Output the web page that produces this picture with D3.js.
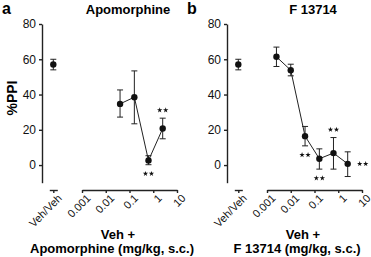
<!DOCTYPE html>
<html>
<head>
<meta charset="utf-8">
<script src="https://cdn.jsdelivr.net/npm/d3@7"></script>
<style>
  body { margin: 0; background: white; }
  svg { font-family: "Liberation Sans", Arial, sans-serif; }
  .axis path, .axis line { stroke: #222; stroke-width: 1.4; }
  .axis text { fill: #111; }
</style>
</head>
<body>
<div id="chart"></div>
<script>
// values
var vehMean = 57, vehSem = 3;

var apoDose = [0.04, 0.16, 0.63, 2.5];
var apoMean = [34.7, 38.5, 2.6, 20.7];
var apoHi   = [42.6, 53.4, 5.3, 26.6];
var apoLo   = [27.2, 23.4, 0.2, 14.9];
var apoStars = ["", "", "below", "above"];

var fDose = [0.0025, 0.01, 0.04, 0.16, 0.63, 2.5];
var fMean = [61.4, 53.8, 16.4, 3.6, 6.8, 0.7];
var fHi   = [66.9, 57.2, 21.9, 9.2, 15.6, 7.5];
var fLo   = [55.9, 50.6, 10.9, -2.3, -2.3, -6.5];
var fStars = ["", "", "below", "below", "above", "right"];

var yTicks = [0, 20, 40, 60, 80];
var xTicks = [0.001, 0.01, 0.1, 1, 10];
var xTickLabels = ["0.001", "0.01", "0.1", "1", "10"];

var width = 371, height = 257;

var svg = d3.select("#chart").append("svg")
    .attr("width", width)
    .attr("height", height);

svg.append("rect").attr("width", "100%").attr("height", "100%").attr("fill", "white");

var y = d3.scaleLinear().domain([-10, 80]).range([182.7, 24]);
var star = d3.symbol().type(d3.symbolStar).size(9);

function panel(offset, letter, title, dose, mean, hi, lo, stars, drugLabel) {
    var g = svg.append("g").attr("transform", "translate(" + offset + ",0)");

    var x = d3.scaleLog().domain([0.001, 10]).range([82, 177]);
    var xv = d3.scalePoint().domain(["Veh/Veh"]).range([49.3, 57.3]).padding(0.5);

    // y axis
    g.append("g").attr("class", "axis")
        .attr("transform", "translate(42,0)")
        .call(d3.axisLeft(y).tickValues(yTicks).tickSize(3).tickSizeOuter(0).tickPadding(3))
        .selectAll("text").style("font-size", "12px");

    // veh axis
    var gv = g.append("g").attr("class", "axis")
        .attr("transform", "translate(0,190)")
        .call(d3.axisBottom(xv).tickSize(3).tickSizeOuter(0));
    // dose axis
    var gx = g.append("g").attr("class", "axis")
        .attr("transform", "translate(0,190)")
        .call(d3.axisBottom(x).tickValues(xTicks)
            .tickFormat(function(d, i) { return xTickLabels[i]; })
            .tickSize(3).tickSizeOuter(0));

    [gv, gx].forEach(function(a) {
        a.selectAll("text")
            .style("font-size", "11px")
            .style("text-anchor", "end")
            .attr("dx", "0em")
            .attr("dy", "0.6em")
            .attr("transform", "rotate(-45)");
    });

    // veh/veh point
    var vx = xv("Veh/Veh");
    g.append("line").attr("x1", vx).attr("x2", vx)
        .attr("y1", y(vehMean + vehSem)).attr("y2", y(vehMean - vehSem))
        .attr("stroke", "#222").attr("stroke-width", 1);
    [vehMean + vehSem, vehMean - vehSem].forEach(function(v) {
        g.append("line").attr("x1", vx - 3).attr("x2", vx + 3)
            .attr("y1", y(v)).attr("y2", y(v))
            .attr("stroke", "#222").attr("stroke-width", 1);
    });
    g.append("circle").attr("cx", vx).attr("cy", y(vehMean)).attr("r", 3.2).attr("fill", "#111");

    var data = dose.map(function(d, i) {
        return { dose: d, mean: mean[i], hi: hi[i], lo: lo[i], star: stars[i] };
    });

    // connecting line
    g.append("path").datum(data)
        .attr("fill", "none").attr("stroke", "#222").attr("stroke-width", 1)
        .attr("d", d3.line().x(function(d) { return x(d.dose); }).y(function(d) { return y(d.mean); }));

    // error bars
    var eb = g.selectAll(".eb").data(data).enter().append("g");
    eb.append("line")
        .attr("x1", function(d) { return x(d.dose); }).attr("x2", function(d) { return x(d.dose); })
        .attr("y1", function(d) { return y(d.hi); }).attr("y2", function(d) { return y(d.lo); })
        .attr("stroke", "#222").attr("stroke-width", 1);
    ["hi", "lo"].forEach(function(k) {
        eb.append("line")
            .attr("x1", function(d) { return x(d.dose) - 3; }).attr("x2", function(d) { return x(d.dose) + 3; })
            .attr("y1", function(d) { return y(d[k]); }).attr("y2", function(d) { return y(d[k]); })
            .attr("stroke", "#222").attr("stroke-width", 1);
    });

    g.selectAll(".pt").data(data).enter().append("circle")
        .attr("cx", function(d) { return x(d.dose); })
        .attr("cy", function(d) { return y(d.mean); })
        .attr("r", 3.2).attr("fill", "#111");

    // significance stars (two per mark)
    var sig = g.selectAll(".sig").data(data.filter(function(d) { return d.star; })).enter().append("g")
        .attr("transform", function(d) {
            var sx = x(d.dose), sy;
            if (d.star == "above") sy = y(d.hi) - 8;
            else if (d.star == "below") sy = y(d.lo) + 9;
            else { sx = sx + 15; sy = y(d.mean); }
            return "translate(" + sx + "," + sy + ")";
        });
    [-3, 3].forEach(function(dx) {
        sig.append("path").attr("d", star).attr("transform", "translate(" + dx + ",0)").attr("fill", "#111");
    });

    // labels
    g.append("text").attr("x", 2).attr("y", 14)
        .style("font-size", "16px").style("font-weight", "bold").text(letter);
    g.append("text").attr("x", 128).attr("y", 14).attr("text-anchor", "middle")
        .style("font-size", "13px").style("font-weight", "bold").text(title);
    g.append("text").attr("x", 118).attr("y", 239).attr("text-anchor", "middle")
        .style("font-size", "13px").style("font-weight", "bold").text("Veh +");
    g.append("text").attr("x", 112).attr("y", 253).attr("text-anchor", "middle")
        .style("font-size", "13px").style("font-weight", "bold").text(drugLabel);
}

panel(0, "a", "Apomorphine", apoDose, apoMean, apoHi, apoLo, apoStars, "Apomorphine (mg/kg, s.c.)");
panel(185, "b", "F 13714", fDose, fMean, fHi, fLo, fStars, "F 13714 (mg/kg, s.c.)");

svg.append("text")
    .attr("transform", "translate(17,98) rotate(-90)")
    .attr("text-anchor", "middle")
    .style("font-size", "14px").style("font-weight", "bold")
    .text("%PPI");
</script>
</body>
</html>
